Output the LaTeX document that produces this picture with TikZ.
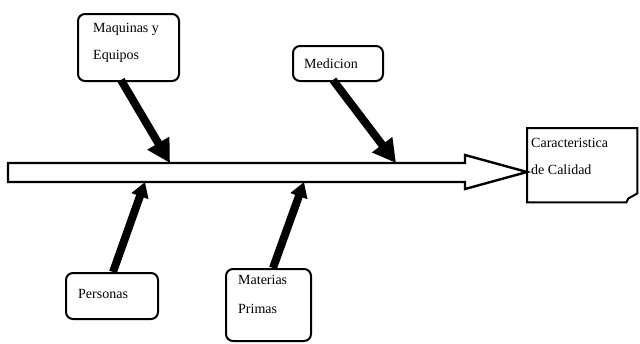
\documentclass[tikz,border=0pt]{standalone}
\usepackage{fontspec}
\setmainfont{Liberation Serif}
\usetikzlibrary{arrows.meta}
\tikzset{
  causebox/.style={draw, line width=2pt, rounded corners=7pt, fill=white, inner sep=0pt, anchor=north west},
  boxtext/.style={align=left, font=\fontsize{14}{27}\selectfont, inner sep=0pt},
  bigcause/.style={draw=black, line width=8pt, -{Triangle[width=24pt,length=23pt]}},
  smallcause/.style={draw=black, line width=8pt, -{Triangle[width=17pt,length=15pt]}},
  spine/.style={draw, line width=2.4pt, fill=white, line join=miter}
}
\begin{document}
\begin{tikzpicture}[x=1pt,y=-1pt]
\useasboundingbox (0,0) rectangle (640,343);
% spine
\draw[spine] (8,163) -- (465,163) -- (465,155) -- (527,172) -- (465,189) -- (465,182) -- (8,182) -- cycle;
\coordinate (m1) at (170,163);
\coordinate (m2) at (396,163);
\coordinate (p1) at (145,182);
\coordinate (p2) at (304,182);
% effect box
\node[draw=none, minimum width=110pt, minimum height=74pt, inner sep=0pt, anchor=north west] (effect) at (527,128) {};
\draw[line width=2pt] (effect.north west) -- (effect.north east) -- ([yshift=9pt]effect.south east) -- ([xshift=-9pt,yshift=4pt]effect.south east) -- ([xshift=-11pt]effect.south east) -- (effect.south west) -- cycle;
\node[boxtext, anchor=north west] (effecttext) at (531,138) {Caracteristica\\de Calidad};
% cause boxes
\node[causebox, minimum width=101pt, minimum height=67pt] (maq) at (77,13) {};
\node[boxtext, anchor=north west] (maqt) at (93,23) {Maquinas y\\Equipos};
\node[causebox, minimum width=90pt, minimum height=35pt] (med) at (292,45) {};
\node[boxtext, anchor=west] (medt) at (304,64) {Medicion};
\node[causebox, minimum width=92pt, minimum height=46pt] (per) at (65,272) {};
\node[boxtext, anchor=west] (pert) at (78,294) {Personas};
\node[causebox, minimum width=85pt, minimum height=72pt] (mat) at (225,268) {};
\node[boxtext, anchor=north west, font=\fontsize{14}{29}\selectfont] (matt) at (238,275) {Materias\\Primas};
% cause arrows
\coordinate (a1) at (121,80);
\coordinate (a2) at (333,80);
\coordinate (a3) at (113,272);
\coordinate (a4) at (273,268);
\draw[bigcause] (a1) -- (m1);
\draw[bigcause] (a2) -- (m2);
\draw[smallcause] (a3) -- (p1);
\draw[smallcause] (a4) -- (p2);
\end{tikzpicture}
\end{document}
